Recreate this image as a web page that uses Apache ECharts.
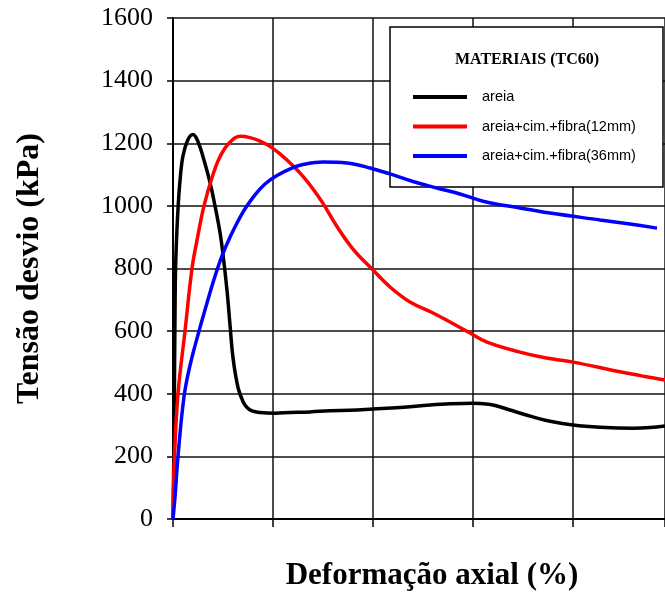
<!DOCTYPE html>
<html>
<head>
<meta charset="utf-8">
<script src="https://cdn.jsdelivr.net/npm/echarts@6/dist/echarts.min.js"></script>
<style>
  html, body { margin: 0; padding: 0; background: #fff; }
  #chart { width: 665px; height: 592px; }
</style>
</head>
<body>
<div id="chart"></div>
<script>
// Axial deformation (%) vs deviator stress (kPa) for each material
const areia = [
  [0, 0], [0.05, 250], [0.075, 450], [0.1, 650], [0.125, 790], [0.175, 890],
  [0.25, 990], [0.35, 1080], [0.5, 1160], [0.75, 1212], [1.0, 1228],
  [1.25, 1205], [1.5, 1157], [1.85, 1075], [2.1, 1000], [2.35, 915],
  [2.5, 845], [2.7, 730], [2.85, 620], [3.0, 515],
  [3.25, 420], [3.5, 375], [3.7, 356], [3.95, 345], [4.35, 340],
  [5.1, 338], [5.85, 340], [6.85, 342], [7.85, 346], [8.85, 347],
  [10.0, 351], [11.35, 356], [12.85, 364], [13.85, 368], [15.0, 370],
  [15.85, 366], [16.2, 361], [16.85, 348], [18.0, 326], [18.85, 312],
  [20.0, 300], [21.35, 293], [23.0, 290], [23.85, 292], [24.6, 297]
];

const fibra12 = [
  [0, 0], [0.075, 200], [0.25, 400], [0.6, 600], [0.95, 800], [1.2, 890],
  [1.55, 1000], [2.0, 1100], [2.35, 1157], [2.8, 1200], [3.35, 1222],
  [3.85, 1218], [4.35, 1207], [4.85, 1190], [5.35, 1166], [6.0, 1128],
  [6.5, 1094], [7.0, 1054], [7.5, 1008], [8.2, 934], [9.0, 862],
  [10.0, 795], [10.85, 741], [11.85, 693], [13.0, 658], [13.85, 629],
  [14.85, 594], [15.7, 565], [17.35, 533], [18.6, 515], [20.0, 501],
  [22.35, 470], [23.6, 455], [24.6, 444]
];

const fibra36 = [
  [0, 0], [0.1, 70], [0.25, 200], [0.55, 390], [0.85, 490], [1.3, 600],
  [1.7, 690], [2.1, 775], [2.45, 840], [2.85, 900], [3.5, 980],
  [4.1, 1035], [4.6, 1070], [5.2, 1097], [6.0, 1122], [6.5, 1132],
  [7.5, 1140], [8.7, 1137], [9.85, 1121], [10.85, 1102], [12.0, 1078],
  [13.2, 1057], [14.35, 1038], [15.5, 1015], [17.35, 993], [18.85, 977],
  [21.35, 955], [22.85, 942], [24.2, 929]
];

const seriesNames = ['areia', 'areia+cim.+fibra(12mm)', 'areia+cim.+fibra(36mm)'];
const seriesColors = ['#000000', '#ff0000', '#0000ff'];
const seriesData = [areia, fibra12, fibra36];
const legendTitle = 'MATERIAIS (TC60)';
const xName = 'Deformação axial (%)';
const yName = 'Tensão desvio (kPa)';

const serif = '"Liberation Serif", "Times New Roman", serif';
const sans = '"Liberation Sans", Arial, sans-serif';

const chart = echarts.init(document.getElementById('chart'), null, { renderer: 'canvas' });

chart.setOption({
  animation: false,
  backgroundColor: '#ffffff',
  grid: {
    left: 173, right: 0, top: 18, bottom: 73,
    containLabel: false, outerBoundsMode: 'none'
  },
  xAxis: {
    type: 'value',
    min: 0,
    max: 24.6,
    interval: 5,
    name: xName,
    nameLocation: 'middle',
    nameGap: 41,
    nameTextStyle: {
      fontFamily: serif, fontWeight: 'bold', fontSize: 31, color: '#000',
      padding: [0, 0, 0, 26]
    },
    axisLine: { show: true, lineStyle: { color: '#000', width: 2 } },
    axisTick: { show: true, inside: false, length: 8, lineStyle: { color: '#000', width: 1.5 } },
    axisLabel: { show: false },
    splitLine: { show: true, lineStyle: { color: '#111', width: 1.5 } }
  },
  yAxis: {
    type: 'value',
    min: 0,
    max: 1600,
    interval: 200,
    name: yName,
    nameLocation: 'middle',
    nameGap: 127,
    nameTextStyle: { fontFamily: serif, fontWeight: 'bold', fontSize: 32, color: '#000' },
    axisLine: { show: true, lineStyle: { color: '#000', width: 2 } },
    axisTick: { show: true, inside: false, length: 6, lineStyle: { color: '#000', width: 1.5 } },
    axisLabel: {
      margin: 20, fontFamily: serif, fontSize: 26, color: '#000',
      formatter: (v) => String(v)
    },
    splitLine: { show: true, lineStyle: { color: '#111', width: 1.5 } }
  },
  legend: {
    orient: 'vertical',
    left: 413,
    top: 89,
    padding: 0,
    itemGap: 13.5,
    itemWidth: 54,
    itemHeight: 4,
    icon: 'rect',
    z: 10,
    textStyle: {
      fontFamily: sans, fontSize: 14.5, color: '#000', lineHeight: 16,
      padding: [0, 0, 0, 10]
    },
    data: seriesNames.map((n, i) => ({ name: n, itemStyle: { color: seriesColors[i] } }))
  },
  graphic: [
    {
      type: 'rect',
      z: 1,
      shape: { x: 390, y: 27, width: 273, height: 160 },
      style: { fill: '#ffffff', stroke: '#000', lineWidth: 1.5 }
    },
    {
      type: 'text',
      z: 11,
      x: 527,
      y: 60,
      style: {
        text: legendTitle,
        font: 'bold 16px ' + serif,
        fill: '#000',
        textAlign: 'center',
        textVerticalAlign: 'middle'
      }
    }
  ],
  series: seriesData.map((d, i) => ({
    name: seriesNames[i],
    type: 'line',
    data: d,
    showSymbol: false,
    smooth: 0.4,
    z: 3,
    lineStyle: { color: seriesColors[i], width: 3.5 },
    itemStyle: { color: seriesColors[i] }
  }))
});
</script>
</body>
</html>
